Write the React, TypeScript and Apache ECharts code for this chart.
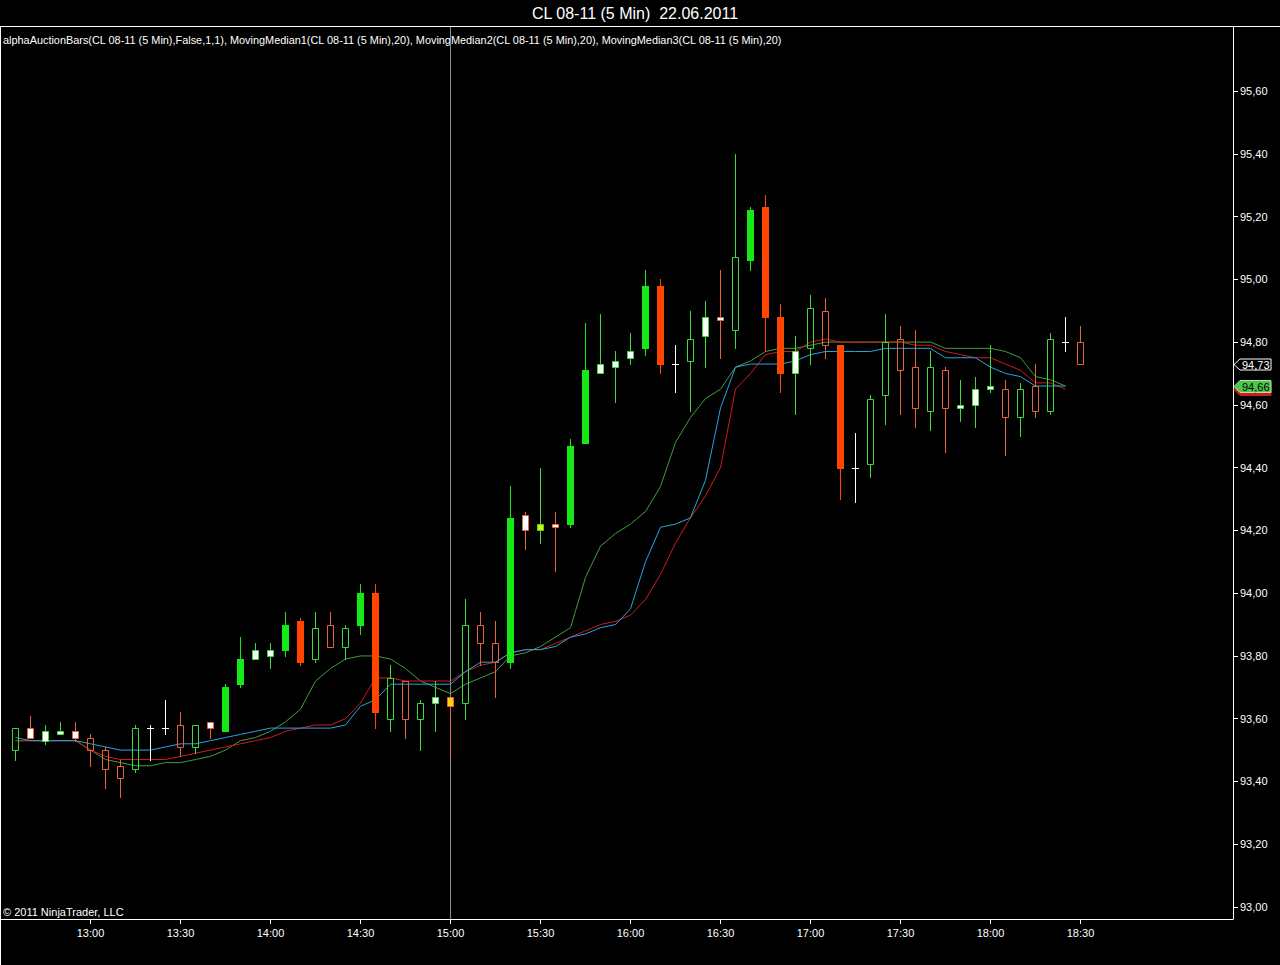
import React, { useEffect, useRef } from 'react';
import * as echarts from 'echarts';

// ---------- data ----------
const times = [
  '12:35', '12:40', '12:45', '12:50', '12:55',
  '13:00', '13:05', '13:10', '13:15', '13:20', '13:25', '13:30', '13:35', '13:40', '13:45', '13:50', '13:55',
  '14:00', '14:05', '14:10', '14:15', '14:20', '14:25', '14:30', '14:35', '14:40', '14:45', '14:50', '14:55',
  '15:00', '15:05', '15:10', '15:15', '15:20', '15:25', '15:30', '15:35', '15:40', '15:45', '15:50', '15:55',
  '16:00', '16:05', '16:10', '16:15', '16:20', '16:25', '16:30', '16:35', '16:40', '16:45', '16:50', '16:55',
  '17:00', '17:05', '17:10', '17:15', '17:20', '17:25', '17:30', '17:35', '17:40', '17:45', '17:50', '17:55',
  '18:00', '18:05', '18:10', '18:15', '18:20', '18:25', '18:30',
];

const opens = [
  93.50, 93.57, 93.53, 93.55, 93.56, 93.54, 93.50, 93.45, 93.44, 93.57,
  93.57, 93.58, 93.51, 93.59, 93.56, 93.71, 93.79, 93.80, 93.82, 93.91,
  93.79, 93.90, 93.83, 93.90, 94.00, 93.60, 93.72, 93.60, 93.65, 93.67,
  93.65, 93.90, 93.84, 93.78, 94.25, 94.20, 94.22, 94.22, 94.48, 94.70,
  94.72, 94.75, 94.78, 94.98, 94.73, 94.74, 94.82, 94.88, 94.84, 95.06,
  95.23, 94.88, 94.70, 94.78, 94.90, 94.79, 94.40, 94.41, 94.63, 94.81,
  94.72, 94.58, 94.71, 94.59, 94.60, 94.65, 94.65, 94.56, 94.66, 94.58,
  94.80, 94.80,
];

const closes = [
  93.57, 93.54, 93.56, 93.56, 93.54, 93.50, 93.44, 93.41, 93.57, 93.57,
  93.57, 93.51, 93.58, 93.57, 93.70, 93.79, 93.82, 93.82, 93.90, 93.78,
  93.89, 93.83, 93.89, 94.00, 93.62, 93.73, 93.60, 93.65, 93.67, 93.64,
  93.90, 93.84, 93.78, 94.24, 94.20, 94.22, 94.21, 94.47, 94.71, 94.73,
  94.74, 94.77, 94.98, 94.73, 94.73, 94.81, 94.88, 94.87, 95.07, 95.22,
  94.88, 94.70, 94.77, 94.91, 94.79, 94.40, 94.40, 94.62, 94.80, 94.71,
  94.59, 94.72, 94.59, 94.60, 94.65, 94.66, 94.56, 94.65, 94.58, 94.81,
  94.80, 94.73,
];

const lows = [
  93.47, 93.54, 93.52, 93.55, 93.53, 93.45, 93.38, 93.35, 93.43, 93.47,
  93.55, 93.48, 93.49, 93.54, 93.56, 93.70, 93.79, 93.76, 93.80, 93.77,
  93.78, 93.83, 93.79, 93.87, 93.57, 93.56, 93.54, 93.50, 93.56, 93.48,
  93.60, 93.77, 93.67, 93.76, 94.14, 94.16, 94.07, 94.21, 94.48, 94.70,
  94.61, 94.73, 94.76, 94.70, 94.64, 94.58, 94.72, 94.75, 94.78, 95.03,
  94.77, 94.64, 94.57, 94.73, 94.75, 94.30, 94.29, 94.37, 94.54, 94.57,
  94.53, 94.52, 94.45, 94.55, 94.53, 94.64, 94.44, 94.50, 94.56, 94.57,
  94.77, 94.73,
];

const highs = [
  93.57, 93.61, 93.58, 93.59, 93.59, 93.55, 93.51, 93.47, 93.58, 93.58,
  93.66, 93.62, 93.58, 93.59, 93.71, 93.86, 93.84, 93.84, 93.94, 93.92,
  93.94, 93.94, 93.90, 94.03, 94.03, 93.77, 93.72, 93.66, 93.72, 93.67,
  93.98, 93.94, 93.91, 94.34, 94.26, 94.40, 94.26, 94.49, 94.86, 94.89,
  94.77, 94.83, 95.03, 95.00, 94.79, 94.90, 94.93, 95.03, 95.40, 95.23,
  95.27, 94.92, 94.82, 94.95, 94.94, 94.79, 94.51, 94.63, 94.89, 94.85,
  94.84, 94.77, 94.72, 94.68, 94.69, 94.79, 94.68, 94.67, 94.73, 94.83,
  94.88, 94.85,
];

// bar look: G/R filled, g/r hollow, wg/wr white body, yg/yr yellow body, d doji
const kinds = [
  'g', 'wr', 'wg', 'wg', 'wr', 'r', 'r', 'r', 'g', 'd',
  'd', 'r', 'g', 'wr', 'G', 'G', 'wg', 'wg', 'G', 'R',
  'g', 'r', 'g', 'G', 'R', 'g', 'r', 'g', 'wg', 'yr',
  'g', 'r', 'r', 'G', 'wr', 'yg', 'wr', 'G', 'G', 'wg',
  'wg', 'wg', 'G', 'R', 'd', 'g', 'wg', 'wr', 'g', 'G',
  'R', 'R', 'wg', 'g', 'r', 'R', 'd', 'g', 'g', 'r',
  'r', 'g', 'r', 'wg', 'wg', 'wg', 'r', 'g', 'r', 'g',
  'd', 'r',
];

const maGreen = [
  93.53, 93.53, 93.53, 93.53, 93.53, 93.50, 93.47, 93.46, 93.45, 93.45,
  93.46, 93.46, 93.47, 93.48, 93.50, 93.53, 93.54, 93.56, 93.59, 93.63,
  93.72, 93.76, 93.79, 93.80, 93.80, 93.79, 93.76, 93.72, 93.70, 93.68,
  93.71, 93.73, 93.75, 93.80, 93.81, 93.83, 93.86, 93.89, 94.05, 94.15,
  94.19, 94.22, 94.26, 94.34, 94.48, 94.56, 94.62, 94.65, 94.72, 94.74,
  94.77, 94.78, 94.78, 94.79, 94.80, 94.80, 94.80, 94.80, 94.80, 94.80,
  94.80, 94.80, 94.78, 94.78, 94.78, 94.78, 94.77, 94.75, 94.69, 94.68,
  94.66,
];

const maBlue = [
  93.54, 93.53, 93.53, 93.53, 93.53, 93.52, 93.51, 93.50, 93.50, 93.50,
  93.51, 93.52, 93.52, 93.53, 93.54, 93.55, 93.56, 93.57, 93.57, 93.57,
  93.57, 93.57, 93.58, 93.64, 93.66, 93.71, 93.71, 93.71, 93.71, 93.71,
  93.75, 93.78, 93.78, 93.81, 93.82, 93.82, 93.83, 93.86, 93.87, 93.89,
  93.90, 93.95, 94.10, 94.21, 94.22, 94.24, 94.36, 94.59, 94.72, 94.73,
  94.73, 94.73, 94.74, 94.76, 94.77, 94.77, 94.77, 94.77, 94.78, 94.78,
  94.78, 94.78, 94.75, 94.75, 94.75, 94.72, 94.70, 94.69, 94.66, 94.66,
  94.66,
];

const maRed = [
  93.53, 93.53, 93.53, 93.53, 93.53, 93.50, 93.48, 93.47, 93.47, 93.47,
  93.47, 93.48, 93.49, 93.50, 93.51, 93.52, 93.53, 93.54, 93.56, 93.57,
  93.58, 93.58, 93.60, 93.65, 93.73, 93.73, 93.72, 93.72, 93.72, 93.72,
  93.75, 93.77, 93.78, 93.81, 93.82, 93.82, 93.84, 93.86, 93.88, 93.90,
  93.91, 93.93, 93.98, 94.06, 94.16, 94.24, 94.31, 94.40, 94.65, 94.70,
  94.76, 94.77, 94.77, 94.80, 94.81, 94.80, 94.80, 94.80, 94.80, 94.80,
  94.79, 94.79, 94.77, 94.76, 94.75, 94.75, 94.73, 94.71, 94.67, 94.67,
  94.65,
];

const timeTicks = ['13:00', '13:30', '14:00', '14:30', '15:00', '15:30', '16:00', '16:30', '17:00', '17:30', '18:00', '18:30'];
const priceTicks = [93.0, 93.2, 93.4, 93.6, 93.8, 94.0, 94.2, 94.4, 94.6, 94.8, 95.0, 95.2, 95.4, 95.6];
const markerTime = '15:00';

const titleText = 'CL 08-11 (5 Min)  22.06.2011';
const indicatorText =
  'alphaAuctionBars(CL 08-11 (5 Min),False,1,1), MovingMedian1(CL 08-11 (5 Min),20), MovingMedian2(CL 08-11 (5 Min),20), MovingMedian3(CL 08-11 (5 Min),20)';
const copyrightText = '\u00A9 2011 NinjaTrader, LLC';

// ---------- helpers ----------
const toMin = (t: string) => {
  const [h, m] = t.split(':').map(Number);
  return h * 60 + m - 720;
};
const fmtTime = (v: number) => {
  const tot = Math.round(v) + 720;
  const h = Math.floor(tot / 60);
  const m = tot % 60;
  return `${h}:${m < 10 ? '0' : ''}${m}`;
};
const fmtPrice = (v: number) => v.toFixed(2).replace('.', ',');

const FONT = '"Liberation Sans", Arial, sans-serif';
const GREEN = '#16ea16';
const ORANGE = '#ff4500';
const LGREEN = '#3cd83c';
const LORANGE = '#e6623a';

const STYLES: Record<string, { fill: string; stroke: string; filled: boolean }> = {
  G: { fill: GREEN, stroke: GREEN, filled: true },
  R: { fill: ORANGE, stroke: ORANGE, filled: true },
  g: { fill: 'transparent', stroke: LGREEN, filled: false },
  r: { fill: 'transparent', stroke: LORANGE, filled: false },
  wg: { fill: '#ffffff', stroke: LGREEN, filled: false },
  wr: { fill: '#ffffff', stroke: LORANGE, filled: false },
  yg: { fill: '#e4f000', stroke: LGREEN, filled: false },
  yr: { fill: '#ffd400', stroke: LORANGE, filled: false },
  d: { fill: '#ffffff', stroke: '#ffffff', filled: true },
};

const GRID_LEFT = 1;
const GRID_RIGHT_X = 1233;
const GRID_TOP = 27;
const GRID_BOTTOM_Y = 919;
const X_MIN = 35 - 14.5 / 3;
const X_MAX = X_MIN + (GRID_RIGHT_X - GRID_LEFT) / 3;
const Y_MAX = 95.6 + (91 - GRID_TOP) / 313.85;
const Y_MIN = 95.6 - (GRID_BOTTOM_Y - 91) / 313.85;

export default function App() {
  const ref = useRef<HTMLDivElement>(null);

  useEffect(() => {
    document.body.style.margin = '0';
    document.body.style.background = '#000';
    if (!ref.current) return;
    const chart = echarts.init(ref.current, undefined, { renderer: 'svg' });

    const candleData = times.map((t, i) => [toMin(t), opens[i], closes[i], lows[i], highs[i]]);
    const lineData = (arr: number[]) => arr.map((v, i) => [toMin(times[i]), v]);

    const renderItem = (params: any, api: any) => {
      const idx = params.dataIndex;
      const kind = kinds[idx];
      const st = STYLES[kind];
      const t = api.value(0);
      const po = api.coord([t, api.value(1)]);
      const yc = api.coord([t, api.value(2)])[1];
      const yl = api.coord([t, api.value(3)])[1];
      const yh = api.coord([t, api.value(4)])[1];
      const x = Math.floor(po[0]) + 0.5;
      const yo = po[1];
      const top = Math.round(Math.min(yo, yc));
      const bot = Math.round(Math.max(yo, yc));
      const children: any[] = [];
      if (kind === 'd') {
        children.push({ type: 'line', shape: { x1: x, y1: Math.round(yh), x2: x, y2: Math.round(yl) + 1 }, style: { stroke: st.stroke, lineWidth: 1 } });
        children.push({ type: 'line', shape: { x1: x - 3.5, y1: top + 0.5, x2: x + 3.5, y2: top + 0.5 }, style: { stroke: st.stroke, lineWidth: 1 } });
      } else {
        const hy = Math.round(yh);
        const ly = Math.round(yl) + 1;
        if (hy < top) children.push({ type: 'line', shape: { x1: x, y1: hy, x2: x, y2: top }, style: { stroke: st.stroke, lineWidth: 1 } });
        if (ly > bot + 1) children.push({ type: 'line', shape: { x1: x, y1: bot + 1, x2: x, y2: ly }, style: { stroke: st.stroke, lineWidth: 1 } });
        if (st.filled) {
          children.push({ type: 'rect', shape: { x: x - 3.5, y: top, width: 7, height: Math.max(bot - top + 1, 2) }, style: { fill: st.fill } });
        } else {
          children.push({
            type: 'rect',
            shape: { x: x - 3, y: top + 0.5, width: 6, height: Math.max(bot - top, 2) },
            style: { fill: st.fill === 'transparent' ? 'rgba(0,0,0,0)' : st.fill, stroke: st.stroke, lineWidth: 1 },
          });
        }
      }
      return { type: 'group', children };
    };

    const axisText = { color: '#ffffff', fontSize: 11, fontFamily: FONT };

    chart.setOption({
      animation: false,
      backgroundColor: '#000000',
      grid: {
        left: GRID_LEFT,
        right: 1280 - GRID_RIGHT_X,
        top: GRID_TOP,
        bottom: 965 - GRID_BOTTOM_Y,
        containLabel: false,
      },
      xAxis: {
        type: 'value',
        min: X_MIN,
        max: X_MAX,
        axisLine: { show: true, onZero: false, lineStyle: { color: '#ffffff', width: 1 } },
        axisTick: { show: true, length: 5, customValues: timeTicks.map(toMin), lineStyle: { color: '#ffffff' } },
        axisLabel: { show: true, margin: 8, customValues: timeTicks.map(toMin), formatter: (v: number) => fmtTime(v), ...axisText },
        splitLine: { show: false },
      },
      yAxis: {
        type: 'value',
        position: 'right',
        min: Y_MIN,
        max: Y_MAX,
        axisLine: { show: true, onZero: false, lineStyle: { color: '#ffffff', width: 1 } },
        axisTick: { show: true, length: 5, customValues: priceTicks, lineStyle: { color: '#ffffff' } },
        axisLabel: { show: true, margin: 7, customValues: priceTicks, formatter: (v: number) => fmtPrice(v), ...axisText },
        splitLine: { show: false },
      },
      series: [
        {
          type: 'line',
          name: 'MovingMedian1',
          data: lineData(maGreen),
          showSymbol: false,
          symbol: 'none',
          lineStyle: { color: '#3f9f3f', width: 1 },
          z: 2,
          markLine: {
            silent: true,
            symbol: 'none',
            label: { show: false },
            lineStyle: { color: '#8c8c8c', width: 1, type: 'solid' },
            data: [{ xAxis: toMin(markerTime) }],
            animation: false,
          },
        },
        {
          type: 'line',
          name: 'MovingMedian3',
          data: lineData(maRed),
          showSymbol: false,
          symbol: 'none',
          lineStyle: { color: '#d41a1a', width: 1 },
          z: 3,
        },
        {
          type: 'line',
          name: 'MovingMedian2',
          data: lineData(maBlue),
          showSymbol: false,
          symbol: 'none',
          lineStyle: { color: '#26a6df', width: 1 },
          z: 4,
        },
        {
          type: 'custom',
          name: 'alphaAuctionBars',
          data: candleData,
          encode: { x: 0, y: [1, 2, 3, 4] },
          renderItem,
          z: 10,
        },
      ],
    });

    const yp = (v: number) => chart.convertToPixel({ yAxisIndex: 0 }, v) as number;
    const marker = (id: string, v: number, fill: string, stroke: string, textColor: string, label: string | null, h: number) => {
      const y = Math.round(yp(v)) + 0.5;
      const els: any[] = [
        {
          type: 'polygon',
          id: id + 'p',
          shape: { points: [[1234, y], [1240, y - h], [1271, y - h], [1271, y + h], [1240, y + h]] },
          style: { fill, stroke, lineWidth: 1 },
          z: 20,
        },
      ];
      if (label) {
        els.push({
          type: 'text',
          id: id + 't',
          x: 1242,
          y: y,
          style: { text: label, fill: textColor, font: `11px ${FONT}`, textAlign: 'left', textVerticalAlign: 'middle' },
          z: 21,
        });
      }
      return els;
    };

    const lastClose = closes[closes.length - 1];
    const lastGreen = maGreen[maGreen.length - 1];
    const lastRed = maRed[maRed.length - 1];

    chart.setOption({
      graphic: [
        { type: 'line', id: 'topLine', shape: { x1: 0, y1: GRID_TOP - 0.5, x2: 1280, y2: GRID_TOP - 0.5 }, style: { stroke: '#ffffff', lineWidth: 1 }, z: 30 },
        { type: 'line', id: 'leftLine', shape: { x1: 0.5, y1: GRID_TOP - 0.5, x2: 0.5, y2: 965 }, style: { stroke: '#ffffff', lineWidth: 1 }, z: 30 },
        {
          type: 'text', id: 'title', x: 635, y: 13,
          style: { text: titleText, fill: '#ffffff', font: `16px ${FONT}`, textAlign: 'center', textVerticalAlign: 'middle' },
        },
        {
          type: 'text', id: 'ind', x: 3, y: 40,
          style: { text: indicatorText, fill: '#ffffff', font: `10.9px ${FONT}`, textAlign: 'left', textVerticalAlign: 'middle' },
        },
        {
          type: 'text', id: 'copy', x: 3, y: 912,
          style: { text: copyrightText, fill: '#ffffff', font: `11px ${FONT}`, textAlign: 'left', textVerticalAlign: 'middle' },
        },
        ...marker('mr', lastRed, '#d41a1a', '#d41a1a', '#000000', null, 6),
        ...marker('mg', lastGreen, '#4cc64c', '#a8e8a8', '#000000', fmtPrice(lastGreen), 6),
        ...marker('mc', lastClose, '#000000', '#ffffff', '#ffffff', fmtPrice(lastClose), 5.5),
      ],
    });

    return () => {
      chart.dispose();
    };
  }, []);

  return <div ref={ref} style={{ width: 1280, height: 965, background: '#000' }} />;
}
